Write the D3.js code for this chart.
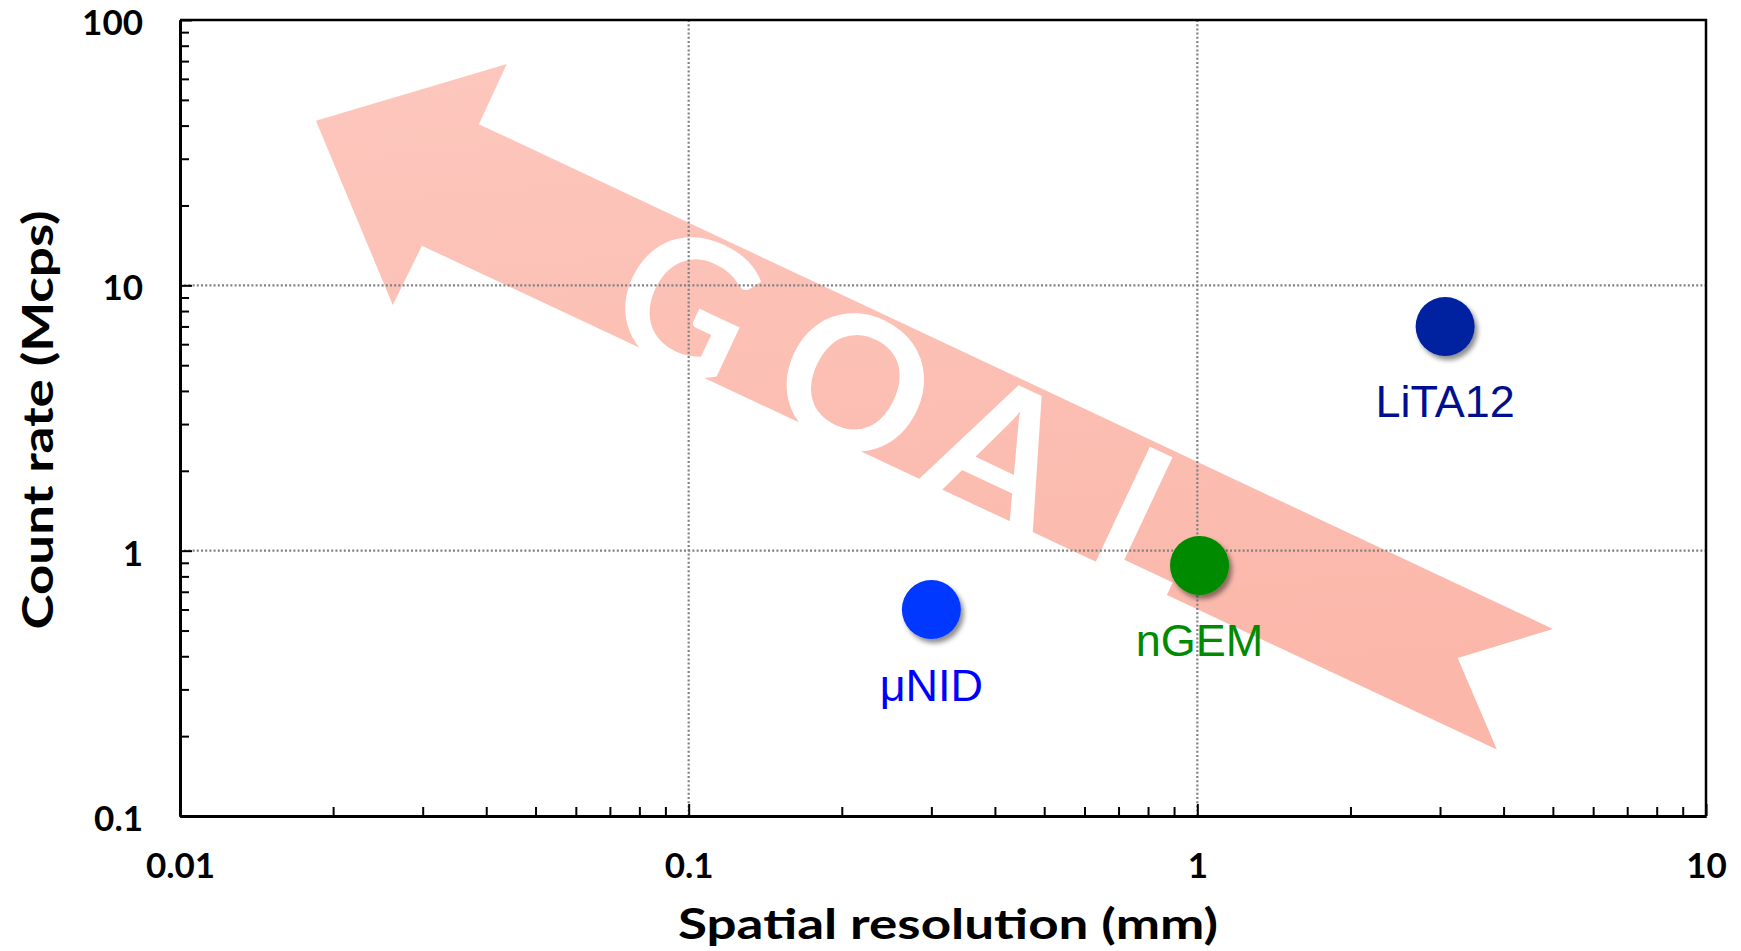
<!DOCTYPE html>
<html>
<head>
<meta charset="utf-8">
<script src="https://cdn.jsdelivr.net/npm/d3@7"></script>
<style>
body { margin: 0; background: #fff; }
svg { display: block; }
</style>
</head>
<body>
<svg id="chart" width="1741" height="951"></svg>
<script>
// detectors: spatial resolution (mm) vs count rate (Mcps)
const detectors = ["μNID", "nGEM", "LiTA12"];
const resolution = [0.30, 1.01, 3.07];
const countRate = [0.60, 0.88, 7.0];

const xTicks = [0.01, 0.1, 1, 10];
const xTickLabels = ["0.01", "0.1", "1", "10"];
const yTicks = [0.1, 1, 10, 100];
const yTickLabels = ["0.1", "1", "10", "100"];

// outline of the big GOAL arrow, in data units (mm, Mcps)
const arrowX = [0.0185, 0.0439, 0.0387, 5.00, 3.25, 3.88, 0.0299, 0.0262];
const arrowY = [41.7, 68.3, 40.5, 0.507, 0.394, 0.178, 14.1, 8.44];
const goalLetters = ["G", "O", "A", "L"];

// styles
const pointColor = {"μNID": "#0637ff", "nGEM": "#008a00", "LiTA12": "#0020a0"};
const labelColor = {"μNID": "#0000ff", "nGEM": "#008a00", "LiTA12": "#000f8f"};

const W = 1741, H = 951;
const margin = {top: 20, right: 35, bottom: 135, left: 180};
const iw = W - margin.left - margin.right;
const ih = H - margin.top - margin.bottom;
const fontBold = "Lato, 'Open Sans', sans-serif";

const svg = d3.select("#chart");
const defs = svg.append("defs");

const grad = defs.append("linearGradient")
    .attr("id", "arrowFill")
    .attr("x1", "0").attr("y1", "0").attr("x2", "0.15").attr("y2", "1");
grad.append("stop").attr("offset", "0%").attr("stop-color", "#fdc7bd");
grad.append("stop").attr("offset", "100%").attr("stop-color", "#fbb7aa");

const shadow = defs.append("filter").attr("id", "shadow")
    .attr("x", "-50%").attr("y", "-50%").attr("width", "200%").attr("height", "200%");
shadow.append("feDropShadow")
    .attr("dx", 3).attr("dy", 4).attr("stdDeviation", 2.5)
    .attr("flood-color", "#000").attr("flood-opacity", 0.45);

const g = svg.append("g").attr("transform", `translate(${margin.left},${margin.top})`);

const x = d3.scaleLog().domain([0.01, 10]).range([0, iw]);
const y = d3.scaleLog().domain([0.1, 100]).range([ih, 0]);

// arrow
const arrowPts = arrowX.map((v, i) => [x(v), y(arrowY[i])]);
g.append("path")
    .attr("d", d3.line()(arrowPts) + "Z")
    .attr("fill", "url(#arrowFill)");

// GOAL lettering along the shaft (local frame rotated with the shaft)
const p0 = arrowPts[2], p1 = arrowPts[3];
const ang = Math.atan2(p1[1] - p0[1], p1[0] - p0[0]) * 180 / Math.PI;
const along = [750.6, 936.7, 1098.4, 1264];   // letter centres along the shaft, px
const goalG = g.append("g")
    .attr("transform", `translate(${-margin.left},${-margin.top}) rotate(${ang})`);
goalG.selectAll("text")
    .data(goalLetters)
    .join("text")
    .attr("x", (d, i) => along[i])
    .attr("y", 49)
    .attr("text-anchor", "middle")
    .attr("font-family", fontBold)
    .attr("font-weight", 700)
    .attr("font-size", 185)
    .attr("fill", "#fff")
    .text(d => d);

// grid
const grid = g.append("g")
    .attr("stroke", "#808080").attr("stroke-width", 2.2).attr("stroke-dasharray", "2,2.2");
grid.selectAll(".gx").data(xTicks.slice(1, -1)).join("line")
    .attr("x1", d => x(d)).attr("x2", d => x(d)).attr("y1", 0).attr("y2", ih);
grid.selectAll(".gy").data(yTicks.slice(1, -1)).join("line")
    .attr("y1", d => y(d)).attr("y2", d => y(d)).attr("x1", 0).attr("x2", iw);

// minor tick values
function minors(ticks) {
    const out = [];
    ticks.slice(0, -1).forEach(t => { for (let k = 2; k <= 9; k++) out.push(t * k); });
    return out;
}

// frame top/right
g.append("path")
    .attr("d", `M0,0H${iw}V${ih}`)
    .attr("fill", "none").attr("stroke", "#000").attr("stroke-width", 2.5);

// x axis
const xMinor = g.append("g").attr("transform", `translate(0,${ih})`)
    .call(d3.axisBottom(x).tickValues(minors(xTicks)).tickFormat("").tickSizeInner(-9).tickSizeOuter(0));
const xMajor = g.append("g").attr("transform", `translate(0,${ih})`)
    .call(d3.axisBottom(x).tickValues(xTicks).tickFormat((d, i) => xTickLabels[i])
        .tickSizeInner(-12).tickSizeOuter(0).tickPadding(37));

// y axis
const yMinor = g.append("g")
    .call(d3.axisLeft(y).tickValues(minors(yTicks)).tickFormat("").tickSizeInner(-9).tickSizeOuter(0));
const yMajor = g.append("g")
    .call(d3.axisLeft(y).tickValues(yTicks).tickFormat((d, i) => yTickLabels[i])
        .tickSizeInner(-12).tickSizeOuter(0).tickPadding(37));

[xMinor, xMajor, yMinor, yMajor].forEach(a => {
    a.select(".domain").attr("stroke", "#000").attr("stroke-width", 3);
    a.selectAll(".tick line").attr("stroke", "#000").attr("stroke-width", 2);
    a.selectAll(".tick text")
        .attr("font-family", fontBold).attr("font-weight", 700)
        .attr("font-size", 35).attr("fill", "#000");
});
yMajor.selectAll(".tick text").attr("dy", "0.41em");

// axis titles
svg.append("text")
    .attr("x", 948).attr("y", 939)
    .attr("text-anchor", "middle")
    .attr("font-family", fontBold).attr("font-weight", 700).attr("font-size", 42)
    .attr("textLength", 540).attr("lengthAdjust", "spacingAndGlyphs")
    .text("Spatial resolution (mm)");

svg.append("text")
    .attr("transform", "translate(53,420) rotate(-90)")
    .attr("text-anchor", "middle")
    .attr("font-family", fontBold).attr("font-weight", 700).attr("font-size", 42)
    .attr("textLength", 419).attr("lengthAdjust", "spacingAndGlyphs")
    .text("Count rate (Mcps)");

// points
const pts = detectors.map((d, i) => ({name: d, rx: resolution[i], cr: countRate[i]}));
g.selectAll(".pt").data(pts).join("circle")
    .attr("cx", d => x(d.rx)).attr("cy", d => y(d.cr)).attr("r", 29.5)
    .attr("fill", d => pointColor[d.name])
    .attr("filter", "url(#shadow)");

g.selectAll(".lbl").data(pts).join("text")
    .attr("x", d => x(d.rx)).attr("y", d => y(d.cr) + 91)
    .attr("text-anchor", "middle")
    .attr("font-family", "'Liberation Sans', Arial, sans-serif")
    .attr("font-size", 45)
    .attr("fill", d => labelColor[d.name])
    .text(d => d.name);
</script>
</body>
</html>
